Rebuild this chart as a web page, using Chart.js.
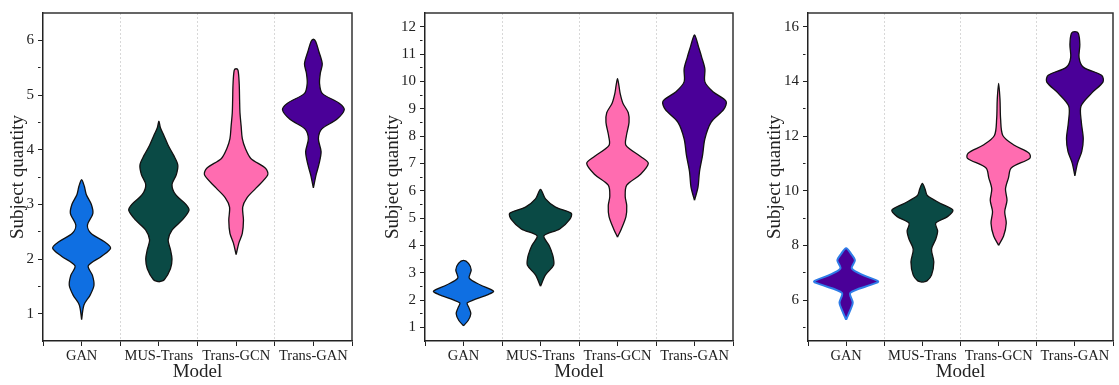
<!DOCTYPE html>
<html>
<head>
<meta charset="utf-8">
<script src="https://cdn.jsdelivr.net/npm/chart.js@4.4.1/dist/chart.umd.min.js"></script>
<style>
  body { margin: 0; background: #fff; }
  #wrap { position: relative; width: 1119px; height: 385px; overflow: hidden; }
  .panel { position: absolute; top: 0; height: 385px; }
</style>
</head>
<body>
<div id="wrap">
  <div class="panel" style="left:0;width:370px"><canvas id="chartA"></canvas></div>
  <div class="panel" style="left:370px;width:380px"><canvas id="chartB"></canvas></div>
  <div class="panel" style="left:750px;width:369px"><canvas id="chartC"></canvas></div>
</div>
<script>
const models = ['GAN', 'MUS-Trans', 'Trans-GCN', 'Trans-GAN'];

// violin outlines: y levels and half widths (in category units)
// left panel
const aGanY = [0.89, 1.16, 1.34, 1.52, 1.70, 1.875, 2.05, 2.2, 2.32, 2.47, 2.62, 2.83, 3.0, 3.18, 3.33, 3.45];
const aGanW = [0, 0.03, 0.11, 0.16, 0.14, 0.086, 0.26, 0.375, 0.29, 0.12, 0.075, 0.145, 0.125, 0.06, 0.035, 0];
const aMusY = [1.58, 1.62, 1.82, 2.0, 2.17, 2.35, 2.53, 2.71, 2.89, 3.0, 3.18, 3.36, 3.54, 3.72, 3.9, 4.08, 4.26, 4.4, 4.52];
const aMusW = [0, 0.07, 0.15, 0.17, 0.15, 0.12, 0.17, 0.3, 0.39, 0.35, 0.215, 0.17, 0.225, 0.245, 0.19, 0.12, 0.065, 0.02, 0];
const aGcnY = [2.08, 2.29, 2.47, 2.71, 2.95, 3.12, 3.3, 3.54, 3.66, 3.84, 4.02, 4.2, 4.43, 4.67, 4.91, 5.2, 5.45, 5.48];
const aGcnW = [0, 0.035, 0.08, 0.095, 0.085, 0.14, 0.26, 0.41, 0.38, 0.19, 0.12, 0.08, 0.065, 0.05, 0.045, 0.04, 0.025, 0];
const aTgY = [3.3, 3.54, 3.72, 3.96, 4.2, 4.38, 4.55, 4.73, 4.85, 5.03, 5.21, 5.4, 5.57, 5.8, 5.98, 6.02];
const aTgW = [0, 0.035, 0.07, 0.1, 0.065, 0.11, 0.3, 0.4, 0.335, 0.115, 0.08, 0.09, 0.115, 0.07, 0.03, 0];

// middle panel
const bGanY = [1.06, 1.25, 1.5, 1.72, 1.9, 2.2, 2.32, 2.55, 2.8, 3.1, 3.34, 3.45];
const bGanW = [0, 0.06, 0.095, 0.07, 0.05, 0.32, 0.39, 0.22, 0.075, 0.1, 0.065, 0];
const bMusY = [2.5, 2.92, 3.27, 3.57, 3.8, 4.0, 4.35, 4.6, 4.95, 5.17, 5.4, 5.7, 6.05];
const bMusW = [0, 0.065, 0.17, 0.165, 0.14, 0.11, 0.045, 0.25, 0.38, 0.4, 0.195, 0.065, 0];
const bGcnY = [4.3, 4.6, 5.05, 5.45, 5.8, 6.2, 6.6, 7.0, 7.25, 7.66, 8.0, 8.5, 8.85, 9.2, 9.55, 9.85, 10.1];
const bGcnW = [0, 0.05, 0.11, 0.12, 0.1, 0.12, 0.3, 0.4, 0.3, 0.11, 0.115, 0.15, 0.14, 0.07, 0.035, 0.018, 0];
const bTgY = [5.65, 6.12, 6.7, 7.3, 7.9, 8.5, 8.97, 9.27, 9.62, 9.98, 10.45, 10.87, 11.29, 11.58, 11.7];
const bTgW = [0, 0.045, 0.065, 0.105, 0.135, 0.215, 0.38, 0.41, 0.24, 0.135, 0.135, 0.095, 0.05, 0.02, 0];

// right panel
const cGanY = [5.28, 5.6, 5.9, 6.26, 6.56, 6.68, 6.9, 7.15, 7.45, 7.69, 7.89];
const cGanW = [0, 0.05, 0.087, 0.055, 0.33, 0.42, 0.23, 0.075, 0.115, 0.065, 0];
const cMusY = [6.65, 6.7, 6.91, 7.39, 7.86, 8.22, 8.52, 8.81, 9.05, 9.29, 9.53, 9.82, 10.06, 10.27];
const cMusW = [0, 0.06, 0.12, 0.15, 0.12, 0.175, 0.2, 0.175, 0.33, 0.4, 0.24, 0.065, 0.035, 0];
const cGcnY = [8.0, 8.34, 8.81, 9.23, 9.65, 10.06, 10.48, 10.83, 11.19, 11.37, 11.67, 12.02, 12.62, 13.33, 13.92];
const cGcnW = [0, 0.065, 0.1, 0.08, 0.11, 0.09, 0.13, 0.165, 0.41, 0.4, 0.2, 0.055, 0.026, 0.018, 0];
const cTgY = [10.54, 11.01, 11.43, 11.9, 12.5, 13.09, 13.57, 13.98, 14.22, 14.52, 14.87, 15.35, 15.76, 15.82];
const cTgW = [0, 0.035, 0.09, 0.11, 0.085, 0.08, 0.22, 0.37, 0.35, 0.11, 0.055, 0.065, 0.045, 0];

const fills = ['#0f6fe2', '#0a4a45', '#ff6cb0', '#4a0098'];

Chart.defaults.font.family = "'Liberation Serif', 'Times New Roman', serif";
Chart.defaults.color = '#222';

// right side going up, then left side coming back down
function violin(center, ys, ws) {
  const pts = ys.map((y, i) => ({x: center + ws[i], y: y}));
  for (let i = ys.length - 2; i >= 0; i--) {
    pts.push({x: center - ws[i], y: ys[i]});
  }
  return pts;
}

const framePlugin = {
  id: 'frame',
  afterDraw(chart) {
    const {ctx, chartArea: a} = chart;
    ctx.save();
    ctx.strokeStyle = '#333';
    ctx.lineWidth = 1.5;
    ctx.beginPath();
    ctx.moveTo(a.left, a.top);
    ctx.lineTo(a.right, a.top);
    ctx.lineTo(a.right, a.bottom);
    ctx.stroke();
    ctx.restore();
  }
};

function makePanel(id, shapes, yMin, yMax, major, minor, pad, yWidth, edgeColors) {
  const datasets = shapes.map((s, i) => ({
    label: models[i],
    data: violin(i + 1, s[0], s[1]),
    showLine: true,
    fill: 'shape',
    backgroundColor: fills[s[2]],
    borderColor: edgeColors[i],
    borderWidth: edgeColors[i] === '#111' ? 1.3 : 2,
    tension: 0.3,
    pointRadius: 0,
    indexAxis: 'y'
  }));

  const isMajor = v => Math.abs(v / major - Math.round(v / major)) < 1e-6;

  new Chart(document.getElementById(id), {
    type: 'scatter',
    data: { datasets },
    plugins: [framePlugin],
    options: {
      responsive: true,
      maintainAspectRatio: false,
      animation: false,
      events: [],
      layout: { padding: { left: pad[0], right: pad[1], top: 4, bottom: 0 } },
      plugins: { legend: { display: false }, tooltip: { enabled: false } },
      scales: {
        x: {
          type: 'linear',
          min: 0.5,
          max: 4.5,
          afterBuildTicks: scale => {
            const t = [];
            for (let v = 0.5; v <= 4.5; v += 0.5) t.push({value: v});
            scale.ticks = t;
          },
          afterFit: scale => { scale.height = 44; },
          ticks: {
            autoSkip: false,
            maxRotation: 0,
            padding: 1,
            font: { size: 14.5 },
            callback: v => Number.isInteger(v) ? models[v - 1] : ''
          },
          grid: {
            drawOnChartArea: true,
            tickLength: 5,
            tickColor: '#222',
            lineWidth: 1,
            color: ctx => (ctx.tick && ctx.tick.value % 1 !== 0 && ctx.tick.value > 1 && ctx.tick.value < 4) ? '#d8d8d8' : 'rgba(0,0,0,0)'
          },
          border: { color: '#222', width: 1.5, dash: [2, 2] },
          title: { display: true, text: 'Model', font: { size: 19 }, padding: { top: 0, bottom: 2 } }
        },
        y: {
          type: 'linear',
          min: yMin,
          max: yMax,
          afterBuildTicks: scale => {
            const t = [];
            const start = Math.ceil((yMin + 1e-9) / minor) * minor;
            for (let v = start; v < yMax - 1e-9; v += minor) t.push({value: +v.toFixed(3)});
            scale.ticks = t;
          },
          afterFit: scale => { scale.width = yWidth; },
          ticks: {
            autoSkip: false,
            padding: 4,
            font: { size: 15 },
            callback: v => isMajor(v) ? String(v) : ''
          },
          grid: {
            drawOnChartArea: false,
            tickLength: 5,
            tickColor: '#222',
            tickBorderDash: ctx => (ctx.tick && !isMajor(ctx.tick.value)) ? [2.5, 20] : []
          },
          border: { color: '#222', width: 1.5 },
          title: { display: true, text: 'Subject quantity', font: { size: 19 }, padding: 0 }
        }
      }
    }
  });
}

const dark = ['#111', '#111', '#111', '#111'];

makePanel('chartA', [[aGanY, aGanW, 0], [aMusY, aMusW, 1], [aGcnY, aGcnW, 2], [aTgY, aTgW, 3]],
  0.5, 6.5, 1, 0.5, [7, 18], 36, dark);
makePanel('chartB', [[bGanY, bGanW, 0], [bMusY, bMusW, 1], [bGcnY, bGcnW, 2], [bTgY, bTgW, 3]],
  0.5, 12.5, 1, 0.5, [12, 17], 43, dark);
makePanel('chartC', [[cGanY, cGanW, 3], [cMusY, cMusW, 1], [cGcnY, cGcnW, 2], [cTgY, cTgW, 3]],
  4.5, 16.5, 2, 1, [14, 6], 44, ['#2f7de8', '#111', '#111', '#111']);
</script>
</body>
</html>
